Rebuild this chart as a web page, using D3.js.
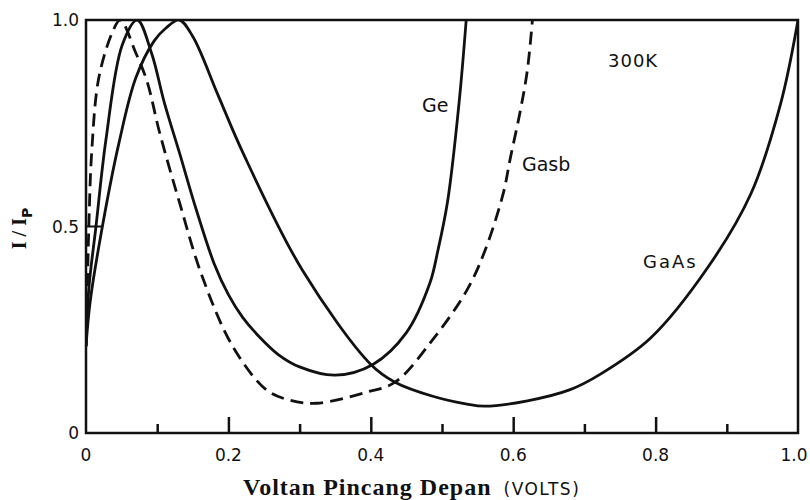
<!DOCTYPE html>
<html>
<head>
<meta charset="utf-8">
<script src="https://cdn.jsdelivr.net/npm/d3@7"></script>
<style>
  body { margin: 0; background: #fff; }
  text { font-family: "DejaVu Sans", sans-serif; fill: #111; }
</style>
</head>
<body>
<div id="chart"></div>
<script>
// curve readings, voltage (V) against I/Ip
var geV = [0, 0.004, 0.014, 0.028, 0.051, 0.072, 0.092, 0.11, 0.131, 0.155, 0.18, 0.2, 0.22, 0.245, 0.27, 0.3, 0.35, 0.403, 0.45, 0.483, 0.494, 0.508, 0.524, 0.534];
var geI = [0.21, 0.35, 0.5, 0.71, 0.94, 1.0, 0.92, 0.8, 0.68, 0.54, 0.41, 0.335, 0.28, 0.23, 0.19, 0.16, 0.14, 0.166, 0.243, 0.363, 0.44, 0.5625, 0.8, 1.0];

var gasbV = [0, 0.002, 0.004, 0.008, 0.018, 0.037, 0.048, 0.07, 0.086, 0.103, 0.131, 0.163, 0.206, 0.253, 0.285, 0.324, 0.394, 0.434, 0.487, 0.535, 0.56, 0.586, 0.596, 0.61, 0.62, 0.627];
var gasbI = [0.21, 0.36, 0.5, 0.68, 0.86, 0.97, 1.0, 0.92, 0.85, 0.73, 0.56, 0.38, 0.21, 0.105, 0.08, 0.072, 0.099, 0.123, 0.226, 0.346, 0.44, 0.58, 0.666, 0.78, 0.88, 1.0];

var gaasV = [0, 0.006, 0.023, 0.046, 0.07, 0.096, 0.112, 0.131, 0.15, 0.185, 0.22, 0.304, 0.4, 0.434, 0.487, 0.535, 0.56, 0.62, 0.68, 0.722, 0.793, 0.873, 0.934, 0.976, 1.0];
var gaasI = [0.21, 0.32, 0.5, 0.7, 0.86, 0.95, 0.98, 1.0, 0.96, 0.82, 0.68, 0.394, 0.166, 0.123, 0.089, 0.07, 0.065, 0.078, 0.105, 0.142, 0.23, 0.40, 0.58, 0.80, 1.0];

var xTicks = [0, 0.2, 0.4, 0.6, 0.8, 1.0];
var xMinor = [0.1, 0.3, 0.5, 0.7, 0.9];
var yTicks = [0, 0.5, 1.0];

var margin = { top: 20, right: 12, bottom: 67, left: 86 },
    width = 810 - margin.left - margin.right,
    height = 500 - margin.top - margin.bottom;

var svg = d3.select("#chart")
    .append("svg")
    .attr("width", width + margin.left + margin.right)
    .attr("height", height + margin.top + margin.bottom)
    .append("g")
    .attr("transform", "translate(" + margin.left + "," + margin.top + ")");

svg.append("clipPath")
    .attr("id", "plot")
    .append("rect")
    .attr("x", 0).attr("y", -1)
    .attr("width", width).attr("height", height + 1);

var x = d3.scaleLinear().domain([0, 1]).range([0, width]);
var y = d3.scaleLinear().domain([0, 1]).range([height, 0]);

// frame
svg.append("rect")
    .attr("x", 0).attr("y", 0)
    .attr("width", width).attr("height", height)
    .attr("fill", "none")
    .attr("stroke", "#111")
    .attr("stroke-width", 2.5);

// x ticks point inward, majors longer
svg.append("g")
    .attr("transform", "translate(0," + height + ")")
    .call(d3.axisBottom(x).tickValues(xTicks.slice(1, -1)).tickSize(-16).tickFormat(""))
    .call(function (g) { g.select(".domain").remove(); })
    .selectAll("line").attr("stroke", "#111").attr("stroke-width", 2.5);
svg.append("g")
    .attr("transform", "translate(0," + height + ")")
    .call(d3.axisBottom(x).tickValues(xMinor).tickSize(-9).tickFormat(""))
    .call(function (g) { g.select(".domain").remove(); })
    .selectAll("line").attr("stroke", "#111").attr("stroke-width", 2.5);

svg.append("g")
    .selectAll("text")
    .data(xTicks)
    .enter()
    .append("text")
    .attr("x", function (d) { return d === 1 ? x(d) - 4 : x(d); })
    .attr("y", height + 28)
    .style("text-anchor", "middle")
    .style("font-size", "17px")
    .text(function (d) { return d === 0 ? "0" : d.toFixed(1); });

// y: only the 0.5 tick is drawn
svg.append("line")
    .attr("x1", 0).attr("x2", 16)
    .attr("y1", y(0.5)).attr("y2", y(0.5))
    .attr("stroke", "#111").attr("stroke-width", 2);

svg.append("g")
    .selectAll("text")
    .data(yTicks)
    .enter()
    .append("text")
    .attr("x", -7)
    .attr("y", function (d) { return y(d) + 6; })
    .style("text-anchor", "end")
    .style("font-size", "17px")
    .text(function (d) { return d === 0 ? "0" : d.toFixed(1); });

// curves
var line = d3.line()
    .x(function (d) { return x(d[0]); })
    .y(function (d) { return y(d[1]); })
    .curve(d3.curveCatmullRom.alpha(0.5));

var series = [
    { v: geV, i: geI, dash: null },
    { v: gasbV, i: gasbI, dash: "13,7" },
    { v: gaasV, i: gaasI, dash: null }
];

svg.append("g")
    .attr("clip-path", "url(#plot)")
    .selectAll("path")
    .data(series)
    .enter()
    .append("path")
    .attr("d", function (s) { return line(d3.zip(s.v, s.i)); })
    .attr("fill", "none")
    .attr("stroke", "#111")
    .attr("stroke-width", 2.8)
    .attr("stroke-dasharray", function (s) { return s.dash; });

// curve labels
svg.append("text").attr("x", 336).attr("y", 92).style("font-size", "19px").text("Ge");
svg.append("text").attr("x", 436).attr("y", 151).style("font-size", "19px").text("Gasb");
svg.append("text").attr("x", 522).attr("y", 47).style("font-size", "18px").style("letter-spacing", "1px").text("300K");
svg.append("text").attr("x", 557).attr("y", 248).style("font-size", "18px").style("letter-spacing", "2px").text("GaAs");

// axis titles
var xt = svg.append("text")
    .attr("x", 157)
    .attr("y", height + 62);
xt.append("tspan")
    .style("font-family", "'Liberation Serif', serif")
    .style("font-weight", "bold")
    .style("font-size", "24px")
    .style("letter-spacing", "1px")
    .text("Voltan Pincang Depan");
xt.append("tspan")
    .attr("dx", 12)
    .style("font-size", "17px")
    .style("letter-spacing", "1.5px")
    .text("(VOLTS)");

var yt = svg.append("text")
    .attr("transform", "rotate(-90)")
    .attr("x", -(y(0.5) + 2))
    .attr("y", -60)
    .style("text-anchor", "middle")
    .style("font-size", "20px");
yt.append("tspan").style("font-family", "'Liberation Serif', serif").style("font-weight", "bold").text("I / I");
yt.append("tspan").attr("dy", 6).style("font-size", "14px").style("font-weight", "bold").text("P");
</script>
</body>
</html>
